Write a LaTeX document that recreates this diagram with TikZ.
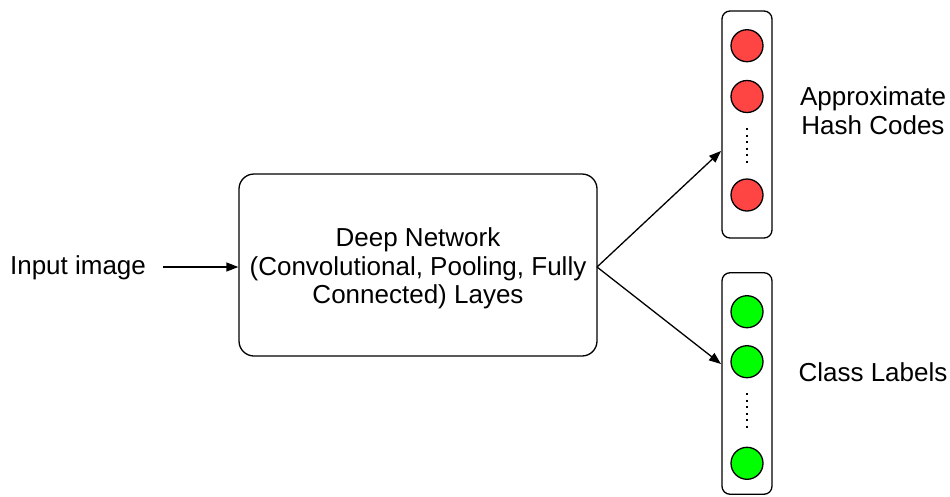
\documentclass[tikz,border=0pt]{standalone}
\usepackage{fontspec}
\setmainfont{Liberation Sans}
\usetikzlibrary{arrows.meta}
\definecolor{hashred}{HTML}{FF4444}
\definecolor{classgreen}{HTML}{00FF00}
\tikzset{
  lbl/.style={font=\fontsize{26}{28.5}\selectfont, align=center, inner sep=0pt},
  netbox/.style={draw, line width=1.3pt, rounded corners=15pt},
  column/.style={draw, line width=1.3pt, rounded corners=8pt},
  unit/.style={circle, draw, line width=1.3pt, minimum size=32pt, inner sep=0pt},
  flow/.style={line width=1.3pt, -{Triangle[length=12pt,width=9pt]}},
  gap/.style={line width=1.3pt, dash pattern=on 2pt off 4.5pt}
}
\begin{document}
\begin{tikzpicture}[x=1pt, y=-1pt]
  \useasboundingbox (0,0) rectangle (950,496);

  % feature extractor
  \node[netbox, minimum width=358pt, minimum height=182pt] (net) at (418,265) {};
  \node[lbl] (nettext) at (418,268.5) {Deep Network\\(Convolutional, Pooling, Fully\\Connected) Layes};

  % input
  \node[lbl] (input) at (78,268) {Input image};
  \coordinate (instart) at (163,267);
  \draw[flow] (instart) -- (net.west |- instart);

  % hash code column
  \node[column, minimum width=50pt, minimum height=227pt] (hash) at (747,124.5) {};
  \node[unit, fill=hashred] (h1) at (747,45.7) {};
  \node[unit, fill=hashred] (h2) at (747,96.5) {};
  \node[unit, fill=hashred] (h3) at (747,195) {};
  \coordinate (hd1) at (747,128);
  \coordinate (hd2) at (747,164);
  \draw[gap] (hd1) -- (hd2);
  \node[lbl] (hashlbl) at (873,110.5) {Approximate\\Hash Codes};

  % class label column
  \node[column, minimum width=50pt, minimum height=221.5pt] (cls) at (747,383.5) {};
  \node[unit, fill=classgreen] (c1) at (747,311.7) {};
  \node[unit, fill=classgreen] (c2) at (747,361.7) {};
  \node[unit, fill=classgreen] (c3) at (747,463.3) {};
  \coordinate (cd1) at (747,393);
  \coordinate (cd2) at (747,428);
  \draw[gap] (cd1) -- (cd2);
  \node[lbl] (clslbl) at (873,372) {Class Labels};

  % outputs
  \coordinate (split) at (597,267);
  \coordinate (hashin) at (721,151);
  \coordinate (clsin) at (721,364);
  \draw[flow] (split) -- (hashin);
  \draw[flow] (split) -- (clsin);
\end{tikzpicture}
\end{document}
